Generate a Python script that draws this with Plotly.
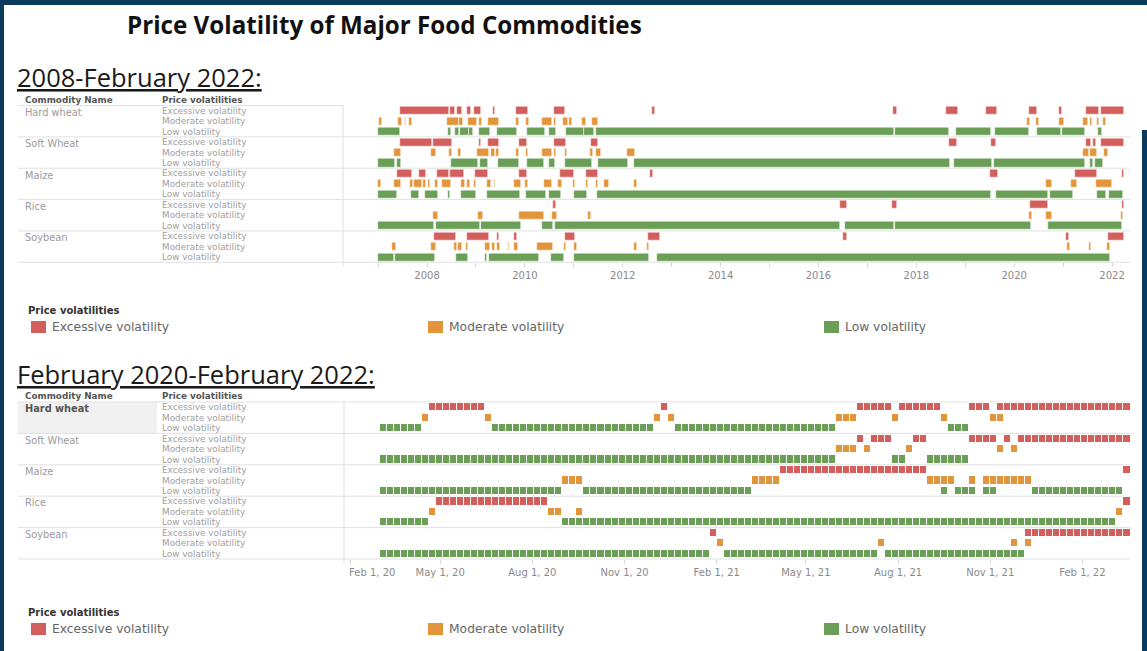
import plotly.graph_objects as go
import pandas as pd

W, H = 1147, 651

COMMODITIES = ["Hard wheat", "Soft Wheat", "Maize", "Rice", "Soybean"]
LEVELS = ["Excessive volatility", "Moderate volatility", "Low volatility"]
COLORS = ["#d25f5b", "#e3953b", "#6b9e57"]

# ---------------- Panel 1 (2007 - Feb 2022), periods in decimal years ----------------
top_hw_e = [(2007.45, 2008.44), (2008.46, 2008.57), (2008.62, 2008.71), (2008.82, 2008.90), (2008.95, 2009.10),
            (2009.35, 2009.39), (2009.81, 2010.07), (2010.60, 2010.83), (2012.60, 2012.65), (2017.52, 2017.60),
            (2018.60, 2018.85), (2019.42, 2019.64), (2020.30, 2020.47), (2020.92, 2020.98), (2021.46, 2021.73),
            (2021.77, 2022.24)]
top_hw_m = [(2007.02, 2007.07), (2007.41, 2007.48), (2007.54, 2007.58), (2007.64, 2007.69), (2008.40, 2008.65),
            (2008.66, 2008.73), (2008.83, 2009.02), (2009.06, 2009.12), (2009.25, 2009.48), (2009.81, 2009.88),
            (2010.02, 2010.08), (2010.36, 2010.55), (2010.60, 2010.63), (2010.77, 2010.88), (2010.91, 2010.96),
            (2011.17, 2011.25), (2011.38, 2011.49), (2020.27, 2020.32), (2020.44, 2020.50), (2020.91, 2021.01),
            (2021.41, 2021.50), (2021.55, 2021.60), (2021.69, 2021.74), (2021.82, 2021.88)]
top_hw_l = [(2007.00, 2007.45), (2008.42, 2008.49), (2008.57, 2008.66), (2008.68, 2008.85), (2008.86, 2008.93),
            (2009.07, 2009.29), (2009.42, 2009.84), (2010.04, 2010.41), (2010.50, 2010.64), (2010.85, 2011.20),
            (2011.21, 2011.42), (2011.45, 2017.55), (2017.57, 2018.67), (2018.82, 2019.52), (2019.60, 2020.31),
            (2020.46, 2020.96), (2020.98, 2021.45), (2021.71, 2021.80)]

top_sw_e = [(2007.45, 2008.11), (2008.13, 2008.52), (2009.06, 2009.10), (2009.25, 2009.48), (2009.87, 2010.04),
            (2010.60, 2010.84), (2011.35, 2011.49), (2018.66, 2018.83), (2019.53, 2019.63), (2021.47, 2021.58),
            (2021.62, 2021.67), (2021.77, 2022.24)]
top_sw_m = [(2007.33, 2007.47), (2008.08, 2008.18), (2008.44, 2008.52), (2008.63, 2008.69), (2009.03, 2009.27),
            (2009.30, 2009.39), (2009.41, 2009.47), (2009.81, 2009.89), (2010.02, 2010.07), (2010.36, 2010.55),
            (2010.60, 2010.63), (2010.82, 2010.87), (2011.34, 2011.39), (2011.46, 2011.56), (2012.08, 2012.26),
            (2021.41, 2021.52), (2021.55, 2021.69), (2021.84, 2021.92)]
top_sw_l = [(2007.00, 2007.35), (2007.38, 2007.46), (2008.49, 2009.05), (2009.08, 2009.25), (2009.46, 2009.88),
            (2010.05, 2010.39), (2010.50, 2010.62), (2010.82, 2011.37), (2011.49, 2012.10), (2012.22, 2018.69),
            (2018.78, 2019.55), (2019.58, 2021.45), (2021.55, 2021.62), (2021.65, 2021.81)]

top_mz_e = [(2007.38, 2007.69), (2007.84, 2007.98), (2008.20, 2008.45), (2008.47, 2008.76), (2008.99, 2009.25),
            (2009.88, 2010.05), (2010.72, 2011.00), (2011.25, 2011.50), (2012.56, 2012.61), (2019.51, 2019.67),
            (2021.24, 2021.69), (2022.20, 2022.25)]
top_mz_m = [(2007.00, 2007.05), (2007.33, 2007.46), (2007.65, 2007.72), (2007.73, 2007.89), (2007.92, 2007.97),
            (2008.03, 2008.07), (2008.16, 2008.23), (2008.30, 2008.49), (2008.69, 2008.78), (2008.82, 2008.88),
            (2008.96, 2009.01), (2009.23, 2009.30), (2009.36, 2009.39), (2009.78, 2009.92), (2010.01, 2010.06),
            (2010.39, 2010.55), (2010.68, 2010.75), (2010.98, 2011.02), (2011.24, 2011.28), (2011.45, 2011.50),
            (2011.62, 2011.71), (2012.22, 2012.29), (2020.66, 2020.77), (2021.17, 2021.28), (2021.67, 2021.99)]
top_mz_l = [(2007.00, 2007.38), (2007.67, 2007.84), (2007.96, 2008.22), (2008.42, 2008.47), (2008.69, 2009.01),
            (2009.23, 2009.90), (2010.02, 2010.43), (2010.50, 2010.73), (2011.00, 2011.26), (2011.47, 2019.53),
            (2019.62, 2020.69), (2020.73, 2021.21), (2021.70, 2021.88), (2021.94, 2022.23)]

top_rc_e = [(2010.58, 2010.64), (2016.44, 2016.58), (2017.50, 2017.60), (2020.32, 2020.70), (2022.20, 2022.25)]
top_rc_m = [(2008.13, 2008.22), (2009.04, 2009.14), (2009.88, 2010.39), (2010.55, 2010.66), (2011.28, 2011.35),
            (2020.30, 2020.36), (2020.64, 2020.77), (2022.18, 2022.23)]
top_rc_l = [(2007.00, 2008.15), (2008.18, 2009.08), (2009.10, 2009.92), (2010.36, 2010.58), (2010.62, 2016.45),
            (2016.54, 2017.54), (2017.57, 2020.34), (2020.69, 2022.21)]

top_sb_e = [(2008.15, 2008.59), (2008.81, 2009.27), (2009.42, 2009.48), (2009.78, 2009.83), (2010.81, 2011.03),
            (2012.52, 2012.76), (2016.51, 2016.58), (2021.06, 2021.13), (2021.92, 2022.24)]
top_sb_m = [(2007.28, 2007.37), (2008.08, 2008.18), (2008.55, 2008.62), (2008.64, 2008.71), (2008.80, 2008.84),
            (2009.19, 2009.29), (2009.32, 2009.39), (2009.42, 2009.49), (2009.65, 2009.68), (2009.78, 2009.85),
            (2010.24, 2010.57), (2010.79, 2010.85), (2011.00, 2011.06), (2012.23, 2012.29), (2012.49, 2012.54),
            (2021.07, 2021.14), (2021.52, 2021.57), (2021.89, 2021.96)]
top_sb_l = [(2007.00, 2007.33), (2007.35, 2008.16), (2008.59, 2008.83), (2009.19, 2009.23), (2009.27, 2010.28),
            (2010.53, 2010.80), (2011.01, 2012.54), (2012.71, 2021.96)]

TOP_TICK_YEARS = list(range(2007, 2023))
TOP_TICK_LABELS = ["", "2008", "", "2010", "", "2012", "", "2014", "", "2016", "", "2018", "", "2020", "", "2022"]

# ---------------- Panel 2 (Feb 2020 - Feb 2022), weekly marks: (first week, last week) ----------------
bot_hw_e = [("2020-04-20", "2020-06-08"), ("2020-12-07", "2020-12-07"), ("2021-06-21", "2021-07-19"),
            ("2021-08-02", "2021-09-06"), ("2021-10-11", "2021-10-25"), ("2021-11-08", "2022-03-14")]
bot_hw_m = [("2020-04-13", "2020-04-13"), ("2020-06-15", "2020-06-15"), ("2020-11-30", "2020-11-30"),
            ("2020-12-14", "2020-12-14"), ("2021-05-31", "2021-06-14"), ("2021-07-26", "2021-07-26"),
            ("2021-09-13", "2021-09-13"), ("2021-11-01", "2021-11-08")]
bot_hw_l = [("2020-03-02", "2020-04-06"), ("2020-06-22", "2020-11-23"), ("2020-12-21", "2021-05-24"),
            ("2021-09-20", "2021-10-04")]

bot_sw_e = [("2021-06-21", "2021-06-21"), ("2021-07-05", "2021-07-19"), ("2021-08-16", "2021-08-23"),
            ("2021-10-11", "2021-11-01"), ("2021-11-15", "2021-11-15"), ("2021-11-29", "2022-03-14")]
bot_sw_m = [("2021-05-31", "2021-06-14"), ("2021-06-28", "2021-06-28"), ("2021-08-09", "2021-08-09"),
            ("2021-11-08", "2021-11-08"), ("2021-11-22", "2021-11-22")]
bot_sw_l = [("2020-03-02", "2021-05-24"), ("2021-07-26", "2021-08-02"), ("2021-08-30", "2021-10-04")]

bot_mz_e = [("2021-04-05", "2021-08-23"), ("2022-03-14", "2022-03-14")]
bot_mz_m = [("2020-08-31", "2020-09-14"), ("2021-03-08", "2021-03-29"), ("2021-08-30", "2021-09-20"),
            ("2021-10-11", "2021-10-11"), ("2021-10-25", "2021-12-06")]
bot_mz_l = [("2020-03-02", "2020-08-24"), ("2020-09-21", "2021-03-01"), ("2021-09-13", "2021-09-13"),
            ("2021-09-27", "2021-10-11"), ("2021-10-25", "2021-11-01"), ("2021-12-13", "2022-03-07")]

bot_rc_e = [("2020-04-27", "2020-08-10"), ("2022-03-14", "2022-03-14")]
bot_rc_m = [("2020-04-20", "2020-04-20"), ("2020-08-17", "2020-08-24"), ("2020-09-14", "2020-09-14"),
            ("2022-03-07", "2022-03-07")]
bot_rc_l = [("2020-03-02", "2020-04-13"), ("2020-08-31", "2022-02-28")]

bot_sb_e = [("2021-01-25", "2021-01-25"), ("2021-12-06", "2022-03-14")]
bot_sb_m = [("2021-02-01", "2021-02-01"), ("2021-07-12", "2021-07-12"), ("2021-11-22", "2021-11-22"),
            ("2021-12-06", "2021-12-06")]
bot_sb_l = [("2020-03-02", "2021-01-18"), ("2021-02-08", "2021-07-05"), ("2021-07-19", "2021-11-29")]

BOT_TICK_DATES = ["2020-02-01", "2020-05-01", "2020-08-01", "2020-11-01", "2021-02-01",
                  "2021-05-01", "2021-08-01", "2021-11-01", "2022-02-01"]
BOT_TICK_LABELS = ["Feb 1, 20", "May 1, 20", "Aug 1, 20", "Nov 1, 20", "Feb 1, 21",
                   "May 1, 21", "Aug 1, 21", "Nov 1, 21", "Feb 1, 22"]

TOP = [[top_hw_e, top_hw_m, top_hw_l], [top_sw_e, top_sw_m, top_sw_l], [top_mz_e, top_mz_m, top_mz_l],
       [top_rc_e, top_rc_m, top_rc_l], [top_sb_e, top_sb_m, top_sb_l]]
BOT = [[bot_hw_e, bot_hw_m, bot_hw_l], [bot_sw_e, bot_sw_m, bot_sw_l], [bot_mz_e, bot_mz_m, bot_mz_l],
       [bot_rc_e, bot_rc_m, bot_rc_l], [bot_sb_e, bot_sb_m, bot_sb_l]]

# ---------------- layout geometry (pixels) ----------------
X_LEFT, X_PLOT0, X_PLOT1 = 18, 343, 1130
TOP_Y0, TOP_Y1 = 105.5, 262.3
BOT_Y0, BOT_Y1 = 402.0, 559.0
FONT = "'DejaVu Sans', sans-serif"
HEAD_FONT = "'Open Sans', sans-serif"

def px(x):
    return x / W

def py(y):
    return 1 - y / H

fig = go.Figure()
LINE = dict(color="rgba(255,255,255,0.85)", width=0.6)
WEEK_MS = 7 * 24 * 3600 * 1000

for ci in range(5):
    for li in range(3):
        row = ci * 3 + li + 0.5
        periods = TOP[ci][li]
        fig.add_trace(go.Bar(
            orientation="h", y=[row] * len(periods),
            base=[a for a, b in periods], x=[b - a for a, b in periods],
            width=0.78, marker=dict(color=COLORS[li], line=LINE),
            xaxis="x", yaxis="y", showlegend=False, hoverinfo="skip"))
        weeks = []
        for a, b in BOT[ci][li]:
            weeks += list(pd.date_range(a, b, freq="7D"))
        fig.add_trace(go.Bar(
            orientation="h", y=[row] * len(weeks),
            base=[w.strftime("%Y-%m-%d") for w in weeks], x=[WEEK_MS] * len(weeks),
            width=0.78, marker=dict(color=COLORS[li], line=dict(color="white", width=1)),
            xaxis="x2", yaxis="y2", showlegend=False, hoverinfo="skip"))

shapes = []
annotations = []

def hline(y, x0, x1, color="#e1e1e1", width=1):
    shapes.append(dict(type="line", xref="paper", yref="paper", x0=px(x0), x1=px(x1), y0=py(y), y1=py(y),
                       line=dict(color=color, width=width), layer="below"))

def vline(x, y0, y1, color="#dedede", width=1):
    shapes.append(dict(type="line", xref="paper", yref="paper", x0=px(x), x1=px(x), y0=py(y0), y1=py(y1),
                       line=dict(color=color, width=width), layer="below"))

def rect(x0, y0, x1, y1, color):
    shapes.append(dict(type="rect", xref="paper", yref="paper", x0=px(x0), x1=px(x1), y0=py(y1), y1=py(y0),
                       fillcolor=color, line=dict(width=0), layer="below"))

def text(x, y, s, size, color, family=FONT, xanchor="left"):
    annotations.append(dict(x=px(x), y=py(y), xref="paper", yref="paper", text=s, showarrow=False,
                            xanchor=xanchor, yanchor="middle", borderpad=0,
                            font=dict(size=size, color=color, family=family)))

# frame
rect(0, 0, W, 5, "#0c3a5d")
rect(0, 0, 4, H, "#0c3a5d")
rect(1142, 130, W, H, "#0c3a5d")

# titles
text(126, 25, "<b>Price Volatility of Major Food Commodities</b>", 24.2, "#111111", family=HEAD_FONT)
text(16, 77, "<u>2008-February 2022:</u>", 25.5, "#1a1a1a", family=HEAD_FONT)
text(16, 373.5, "<u>February 2020-February 2022:</u>", 25.5, "#1a1a1a", family=HEAD_FONT)

# highlight for selected row in the second table
rect(X_LEFT, BOT_Y0, 157, BOT_Y0 + (BOT_Y1 - BOT_Y0) / 5, "#f1f1f1")

for (y0, y1, full_top) in [(TOP_Y0, TOP_Y1, False), (BOT_Y0, BOT_Y1, True)]:
    block = (y1 - y0) / 5
    row_h = block / 3
    text(24, y0 - 6, "<b>Commodity Name</b>", 8.8, "#555555")
    text(161, y0 - 6, "<b>Price volatilities</b>", 8.8, "#555555")
    for i in range(6):
        y = y0 + block * i
        if i == 0 and not full_top:
            hline(y, X_LEFT, X_PLOT0)
        else:
            hline(y, X_LEFT, X_PLOT1)
    vline(X_PLOT0 + (1 if full_top else 0), y0, y1 + 4)
    for ci, name in enumerate(COMMODITIES):
        bold = full_top and ci == 0
        text(24, y0 + block * ci + 6.8, f"<b>{name}</b>" if bold else name, 9.8,
             "#555555" if bold else "#9a9a9a")
        for li, lev in enumerate(LEVELS):
            text(161, y0 + block * ci + row_h * (li + 0.5), lev, 8.9, "#a0a0a0")

# legends
for ly in [310, 612]:
    text(27, ly, "<b>Price volatilities</b>", 10, "#333333")
    for (x0, lab, col) in [(31, LEVELS[0], COLORS[0]), (428, LEVELS[1], COLORS[1]), (824, LEVELS[2], COLORS[2])]:
        rect(x0, ly + 11, x0 + 15, ly + 23, col)
        text(x0 + 20, ly + 17, lab, 12.3, "#666666")

axis_common = dict(showgrid=False, zeroline=False, showline=False, ticks="outside", ticklen=4,
                   tickcolor="#d8d8d8", tickfont=dict(size=10, color="#8a8a8a", family=FONT), fixedrange=True)

# first bottom tick label sits inside the plot (kept clear of the table), like the original
bot_ticktext = ["\u00a0" * 14 + BOT_TICK_LABELS[0]] + BOT_TICK_LABELS[1:]

fig.update_layout(
    width=W, height=H, margin=dict(l=0, r=0, t=0, b=0, autoexpand=False),
    paper_bgcolor="white", plot_bgcolor="rgba(0,0,0,0)", barmode="overlay", bargap=0,
    showlegend=False, shapes=shapes, annotations=annotations,
    xaxis=dict(domain=[px(X_PLOT0), px(X_PLOT1)], range=[2006.283, 2022.367], anchor="y",
               tickmode="array", tickvals=TOP_TICK_YEARS, ticktext=TOP_TICK_LABELS, **axis_common),
    yaxis=dict(domain=[py(TOP_Y1), py(TOP_Y0)], range=[15, 0], visible=False, fixedrange=True),
    xaxis2=dict(domain=[px(X_PLOT0), px(X_PLOT1)], type="date", range=["2020-01-25", "2022-03-20 12:00"],
                anchor="y2", tickmode="array", tickvals=BOT_TICK_DATES, ticktext=bot_ticktext, **axis_common),
    yaxis2=dict(domain=[py(BOT_Y1), py(BOT_Y0)], range=[15, 0], visible=False, fixedrange=True),
)

fig.write_html("out.html", config={"displayModeBar": False},
               post_script="document.body.style.margin='0';document.body.style.overflow='hidden';")
